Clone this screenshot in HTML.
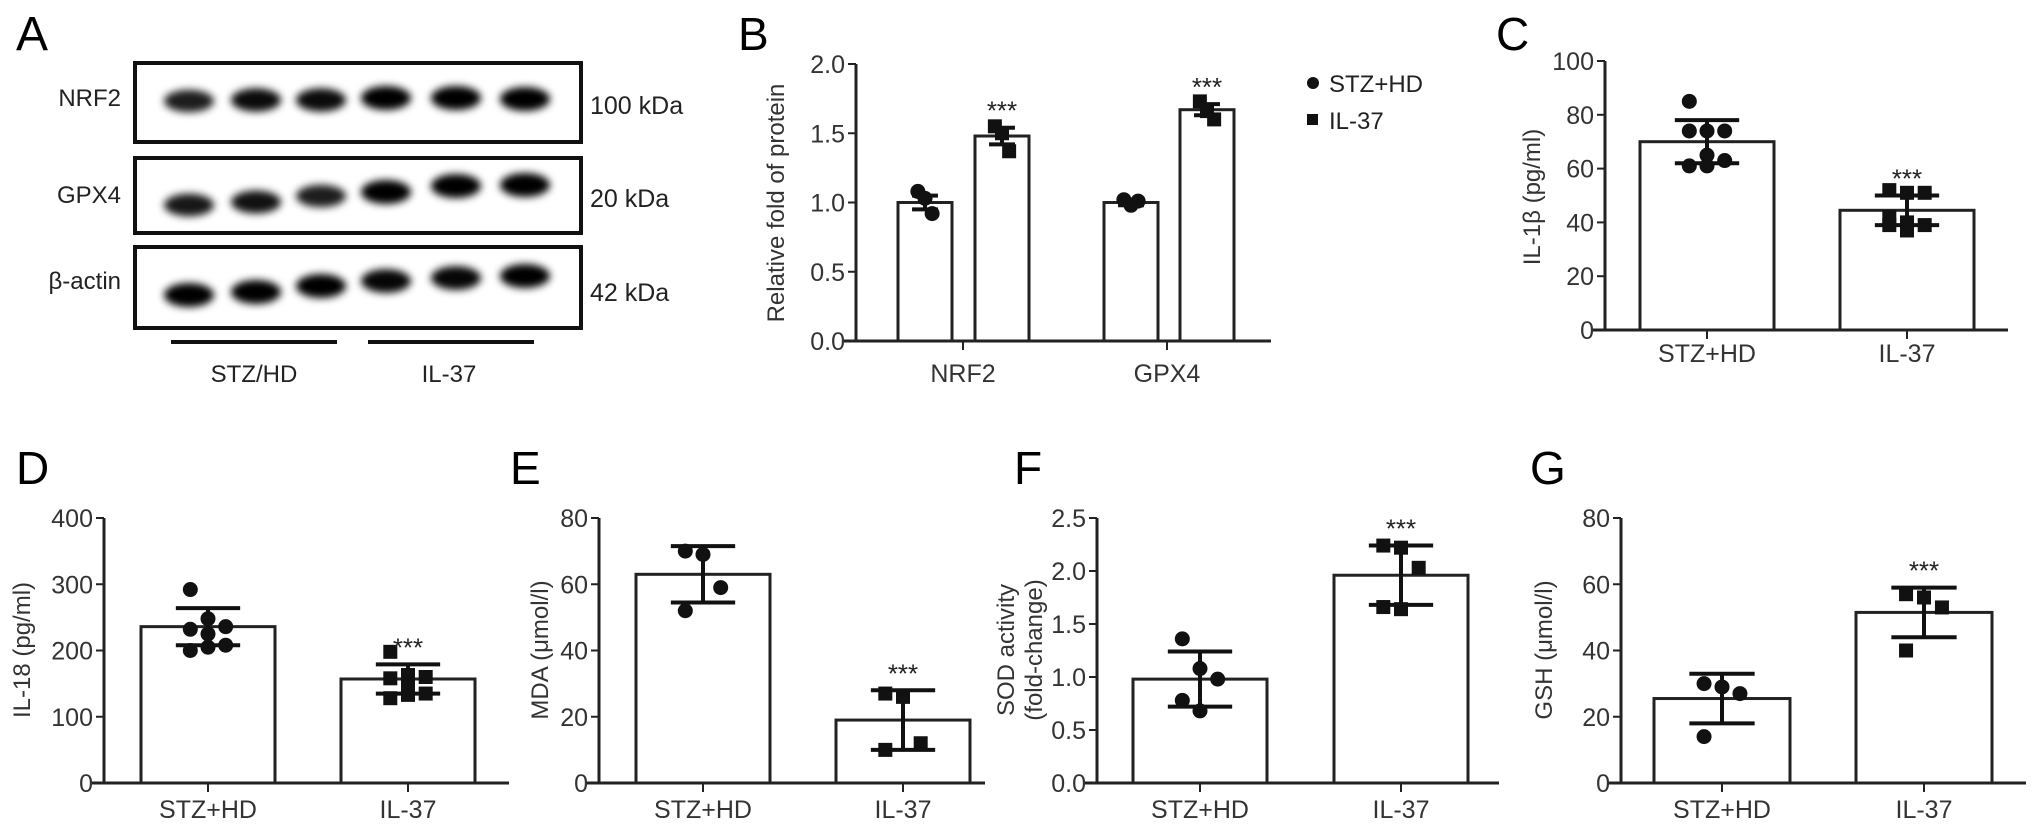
<!DOCTYPE html>
<html><head><meta charset="utf-8">
<style>
html,body{margin:0;padding:0;background:#fff;}
svg{display:block;font-family:"Liberation Sans",Arial,sans-serif;}
</style></head>
<body>
<svg id="fig" width="2032" height="832" viewBox="0 0 2032 832" xmlns="http://www.w3.org/2000/svg">
<defs>
<filter id="blur" x="-30%" y="-60%" width="160%" height="220%"><feGaussianBlur stdDeviation="4"/></filter>
</defs>
<rect width="2032" height="832" fill="#fff"/>
<g id="panelA">
<text x="16" y="50" font-size="48">A</text>
<rect x="135" y="63" width="446" height="79" fill="#fff" stroke="#111" stroke-width="4"/>
<rect x="135" y="158" width="446" height="75" fill="#fff" stroke="#111" stroke-width="4"/>
<rect x="135" y="247" width="446" height="81" fill="#fff" stroke="#111" stroke-width="4"/>
<g id="bands" filter="url(#blur)"></g>
<text x="121" y="106" font-size="24" text-anchor="end" fill="#222">NRF2</text>
<text x="121" y="203" font-size="24" text-anchor="end" fill="#222">GPX4</text>
<text x="121" y="289" font-size="24" text-anchor="end" fill="#222">β-actin</text>
<text x="590" y="114" font-size="25" fill="#222">100 kDa</text>
<text x="590" y="207" font-size="25" fill="#222">20 kDa</text>
<text x="590" y="301" font-size="25" fill="#222">42 kDa</text>
<line x1="171" y1="342" x2="337" y2="342" stroke="#111" stroke-width="4"/>
<line x1="368" y1="342" x2="534" y2="342" stroke="#111" stroke-width="4"/>
<text x="254" y="382" font-size="24" text-anchor="middle" fill="#222">STZ/HD</text>
<text x="449" y="382" font-size="24" text-anchor="middle" fill="#222">IL-37</text>
</g>
<g id="charts"></g>
</svg>
<script>
// ---- Data ----
const laneX = [189, 256, 321, 386, 456, 525];
const nrf2Intensity = [0.75, 0.9, 0.9, 1, 1, 1];
const gpx4Intensity = [0.8, 0.85, 0.75, 1, 1, 1];
const actinIntensity = [1, 1, 1, 0.95, 0.95, 1];

const bCategories = ["NRF2", "GPX4"];
const bStzMeans = [1.0, 1.0];
const bStzSD = [0.05, 0.02];
const bIlMeans = [1.48, 1.67];
const bIlSD = [0.06, 0.04];
const bStzPoints = [[1.08, 1.03, 0.92], [1.02, 0.98, 1.01]];
const bIlPoints = [[1.55, 1.50, 1.37], [1.73, 1.66, 1.60]];
const bTicks = ["0.0", "0.5", "1.0", "1.5", "2.0"];

const groups = ["STZ+HD", "IL-37"];
const cMeans = [70, 44.5];
const cSD = [8, 5.5];
const cPoints = [[85, 74, 74, 74, 65, 63, 61, 61], [52, 51, 51, 42, 40, 39, 39, 37]];
const cTicks = [0, 20, 40, 60, 80, 100];

const dMeans = [236, 157];
const dSD = [28, 22];
const dPoints = [[292, 248, 236, 232, 225, 208, 200, 205], [198, 163, 160, 158, 150, 135, 128, 133]];
const dTicks = [0, 100, 200, 300, 400];

const eMeans = [63, 19];
const eSD = [8.5, 9];
const ePoints = [[70, 69, 59, 52], [27, 26, 12, 10]];
const eTicks = [0, 20, 40, 60, 80];

const fMeans = [0.98, 1.96];
const fSD = [0.26, 0.28];
const fPoints = [[1.36, 1.08, 0.98, 0.78, 0.68], [2.24, 2.22, 2.03, 1.66, 1.64]];
const fTicks = ["0.0", "0.5", "1.0", "1.5", "2.0", "2.5"];

const gMeans = [25.5, 51.5];
const gSD = [7.5, 7.5];
const gPoints = [[30, 29, 27, 14], [57, 56, 53, 40]];
const gTicks = [0, 20, 40, 60, 80];

const NS = "http://www.w3.org/2000/svg";
function mk(tag, attrs, parent) {
  const e = document.createElementNS(NS, tag);
  for (const k in attrs) e.setAttribute(k, attrs[k]);
  parent.appendChild(e);
  return e;
}

// ---- Blot bands ----
const bandG = document.getElementById("bands");
function drawBands(arr, ys, name) {
  arr.forEach((v, i) => {
    const e = mk("ellipse", {cx: laneX[i], cy: ys[i], rx: 25, ry: 9 + 3 * v, fill: "#000", "fill-opacity": 0.55 + 0.45 * v}, bandG);
    
    
  });
}
drawBands(nrf2Intensity, [101, 100, 100, 98, 98, 99], "nrf2");
drawBands(gpx4Intensity, [205, 202, 196, 192, 186, 185], "gpx4");
drawBands(actinIntensity, [295, 292, 286, 281, 278, 276], "beta-actin");

// ---- Generic chart ----
const root = document.getElementById("charts");
function barChart(o) {
  const g = mk("g", {}, root);
  
  
  const vmax = o.max;
  const y = v => o.y0 - (v / vmax) * (o.y0 - o.yTop);
  const lab = mk("text", {x: o.letterX, y: o.letterY, "font-size": 46}, g);
  lab.textContent = o.letter;
  
  
  const ya = mk("line", {x1: o.ax, y1: o.yTop, x2: o.ax, y2: o.y0 + 1.5, stroke: "#222", "stroke-width": 3}, g);
  
  
  const xa = mk("line", {x1: o.ax - 12, y1: o.y0, x2: o.axEnd, y2: o.y0, stroke: "#222", "stroke-width": 3}, g);
  
  
  o.ticks.forEach(t => {
    const yy = y(parseFloat(t));
    const tl = mk("line", {x1: o.ax - 8, y1: yy, x2: o.ax, y2: yy, stroke: "#222", "stroke-width": 2}, g);
    
    
    const tx = mk("text", {x: o.ax - 11, y: yy + 9, "font-size": 25, "text-anchor": "end", fill: "#333"}, g);
    tx.textContent = t;
    
    
  });
  o.title.forEach((line, li) => {
    const tx0 = o.titleX + li * 28;
    const tt = mk("text", {x: tx0, y: o.titleY, "font-size": 24, "text-anchor": "middle", fill: "#333", transform: "rotate(-90 " + tx0 + " " + o.titleY + ")"}, g);
    tt.textContent = line;
    
    
  });
  o.bars.forEach((b) => {
    const top = y(b.mean);
    const r = mk("rect", {x: b.x0, y: top, width: b.w, height: o.y0 - top, fill: "#fff", stroke: "#222", "stroke-width": 3}, g);
    
    
    const cx = b.x0 + b.w / 2;
    const capW = b.w * 0.24;
    b.points.forEach((p, j) => {
      const off = ((j % 3) - 1) * capW * 0.55;
      let pt;
      if (b.square) pt = mk("rect", {x: cx + off - 7, y: y(p) - 7, width: 14, height: 14, fill: "#111"}, g);
      else pt = mk("circle", {cx: cx + off, cy: y(p), r: 7.5, fill: "#111"}, g);
      
      
    });
    const hi = y(b.mean + b.sd), lo = y(b.mean - b.sd);
    const eb = mk("path", {d: `M${cx},${hi}V${lo}M${cx - capW},${hi}H${cx + capW}M${cx - capW},${lo}H${cx + capW}`, stroke: "#111", "stroke-width": 4, fill: "none"}, g);
    
    
    if (b.star) {
      const s = mk("text", {x: cx, y: hi - 8, "font-size": 26, "text-anchor": "middle", fill: "#222"}, g);
      s.textContent = "***";
      
      
    }
  });
  o.cats.forEach(c => {
    const tk = mk("line", {x1: c.x, y1: o.y0, x2: c.x, y2: o.y0 + 9, stroke: "#222", "stroke-width": 2}, g);
    
    
    const t = mk("text", {x: c.x, y: o.labelY, "font-size": 25, "text-anchor": "middle", fill: "#333"}, g);
    t.textContent = c.label;
    
    
  });
}

// Panel B
(function () {
  const bx = [[898, 975], [1104, 1180]];
  const bars = [];
  bCategories.forEach((c, i) => {
    bars.push({key: c.toLowerCase() + "-stz-hd", x0: bx[i][0], w: 54, mean: bStzMeans[i], sd: bStzSD[i], points: bStzPoints[i]});
    bars.push({key: c.toLowerCase() + "-il37", x0: bx[i][1], w: 54, mean: bIlMeans[i], sd: bIlSD[i], points: bIlPoints[i], square: true, star: true});
  });
  barChart({name: "panel-b-chart", letter: "B", letterX: 738, letterY: 50, ax: 856, axEnd: 1271, y0: 341, yTop: 64, max: 2.0,
    ticks: bTicks, title: ["Relative fold of protein"], titleX: 784, titleY: 203, labelY: 382,
    bars: bars, cats: [{x: 963, label: bCategories[0]}, {x: 1167, label: bCategories[1]}]});
  const g = root.lastChild;
  const c = mk("circle", {cx: 1313, cy: 83, r: 6, fill: "#111"}, g);
  
  
  const t1 = mk("text", {x: 1329, y: 92, "font-size": 24, fill: "#222"}, g);
  t1.textContent = "STZ+HD";
  
  
  const s = mk("rect", {x: 1307, y: 114, width: 11, height: 11, fill: "#111"}, g);
  
  
  const t2 = mk("text", {x: 1329, y: 129, "font-size": 24, fill: "#222"}, g);
  t2.textContent = "IL-37";
  
  
})();

function twoBar(name, letter, lx, ly, ax, axEnd, y0, yTop, max, ticks, title, titleX, titleY, labelY, xs, w, means, sds, pts) {
  barChart({name: name, letter: letter, letterX: lx, letterY: ly, ax: ax, axEnd: axEnd, y0: y0, yTop: yTop, max: max,
    ticks: ticks, title: title, titleX: titleX, titleY: titleY, labelY: labelY,
    bars: [
      {key: "stz-hd", x0: xs[0], w: w, mean: means[0], sd: sds[0], points: pts[0]},
      {key: "il37", x0: xs[1], w: w, mean: means[1], sd: sds[1], points: pts[1], square: true, star: true}
    ],
    cats: [{x: xs[0] + w / 2, label: groups[0]}, {x: xs[1] + w / 2, label: groups[1]}]});
}
twoBar("panel-c-chart", "C", 1496, 50, 1605, 2008, 330, 61, 100, cTicks.map(String), ["IL-1β (pg/ml)"], 1540, 197, 362, [1640, 1840], 134, cMeans, cSD, cPoints);
twoBar("panel-d-chart", "D", 16, 484, 104, 509, 783, 518, 400, dTicks.map(String), ["IL-18 (pg/ml)"], 30, 650, 818, [141, 341], 134, dMeans, dSD, dPoints);
twoBar("panel-e-chart", "E", 510, 484, 599, 985, 783, 518, 80, eTicks.map(String), ["MDA (μmol/l)"], 548, 650, 818, [636, 836], 134, eMeans, eSD, ePoints);
twoBar("panel-f-chart", "F", 1014, 484, 1097, 1499, 783, 518, 2.5, fTicks, ["SOD activity", "(fold-change)"], 1014, 650, 818, [1133, 1334], 134, fMeans, fSD, fPoints);
twoBar("panel-g-chart", "G", 1530, 484, 1621, 2026, 783, 518, 80, gTicks.map(String), ["GSH (μmol/l)"], 1552, 650, 818, [1654, 1856], 136, gMeans, gSD, gPoints);
</script>
</body></html>
